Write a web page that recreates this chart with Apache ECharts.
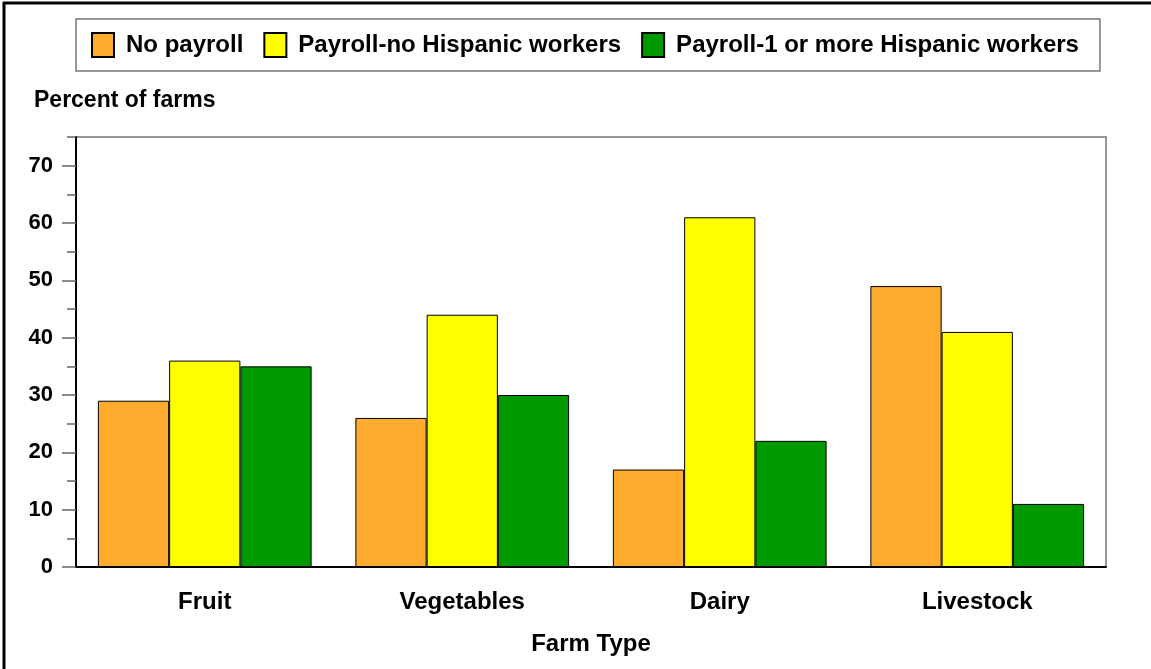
<!DOCTYPE html>
<html>
<head>
<meta charset="utf-8">
<script src="https://cdn.jsdelivr.net/npm/echarts@6/dist/echarts.min.js"></script>
<style>
  html, body { margin: 0; padding: 0; background: #fff; }
  #chart { width: 1151px; height: 669px; }
</style>
</head>
<body>
<div id="chart"></div>
<script>
var farmTypes = ['Fruit', 'Vegetables', 'Dairy', 'Livestock'];
var noPayroll = [29, 26, 17, 49];
var payrollNoHispanic = [36, 44, 61, 41];
var payrollHispanic = [35, 30, 22, 11];
var yTicks = [0, 10, 20, 30, 40, 50, 60, 70];

var FONT = '"Liberation Sans", Arial, sans-serif';

var chart = echarts.init(document.getElementById('chart'));

function barSeries(name, color, values) {
	return {
		name: name,
		type: 'bar',
		yAxisIndex: 0,
		data: values,
		barGap: '0%',
		barCategoryGap: '17%',
		itemStyle: { color: color, borderColor: '#000', borderWidth: 1 }
	};
}

var option = {
	animation: false,
	textStyle: { fontFamily: FONT },
	title: {
		text: 'Percent of farms',
		left: 29,
		top: 84,
		textStyle: { fontFamily: FONT, fontSize: 23, fontWeight: 'bold', color: '#000' }
	},
	legend: {
		left: 76,
		top: 19,
		padding: [13, 21, 13, 15],
		borderColor: '#777',
		borderWidth: 1.5,
		icon: 'rect',
		itemWidth: 22,
		itemHeight: 24,
		itemGap: 20,
		textStyle: { fontFamily: FONT, fontSize: 24, fontWeight: 'bold', color: '#000', padding: [0, 0, 0, 7] },
		data: ['No payroll', 'Payroll-no Hispanic workers', 'Payroll-1 or more Hispanic workers']
	},
	grid: {
		left: 76,
		top: 137,
		right: 45,
		bottom: 102,
		outerBoundsMode: 'none',
		show: true,
		borderColor: '#777',
		borderWidth: 1.5
	},
	xAxis: {
		type: 'category',
		data: farmTypes,
		name: 'Farm Type',
		nameLocation: 'middle',
		nameGap: 65,
		nameTextStyle: { fontFamily: FONT, fontSize: 24, fontWeight: 'bold', color: '#000' },
		axisLine: { lineStyle: { color: '#000', width: 2 } },
		axisTick: { show: false },
		axisLabel: { margin: 23, fontFamily: FONT, fontSize: 24, fontWeight: 'bold', color: '#000' }
	},
	yAxis: [
		{
			type: 'value',
			min: 0,
			max: 75,
			interval: 10,
			axisLine: { show: true, lineStyle: { color: '#000', width: 2 } },
			axisTick: { show: true, length: 14, customValues: yTicks, lineStyle: { color: '#666', width: 1.5 } },
			axisLabel: { margin: 23, customValues: yTicks, fontFamily: FONT, fontSize: 22, fontWeight: 'bold', color: '#000' },
			splitLine: { show: false }
		},
		{
			type: 'value',
			position: 'left',
			min: 0,
			max: 75,
			interval: 5,
			axisLine: { show: false },
			axisTick: { show: true, length: 9, lineStyle: { color: '#666', width: 1.5 } },
			axisLabel: { show: false },
			splitLine: { show: false }
		}
	],
	graphic: [
		{ type: 'line', shape: { x1: 3, y1: 3, x2: 1151, y2: 3 }, style: { stroke: '#000', lineWidth: 3 } },
		{ type: 'line', shape: { x1: 4, y1: 2, x2: 4, y2: 669 }, style: { stroke: '#000', lineWidth: 3 } }
	],
	series: [
		barSeries('No payroll', '#FFAB2E', noPayroll),
		barSeries('Payroll-no Hispanic workers', '#FFFF00', payrollNoHispanic),
		barSeries('Payroll-1 or more Hispanic workers', '#009900', payrollHispanic)
	]
};

chart.setOption(option);
</script>
</body>
</html>
